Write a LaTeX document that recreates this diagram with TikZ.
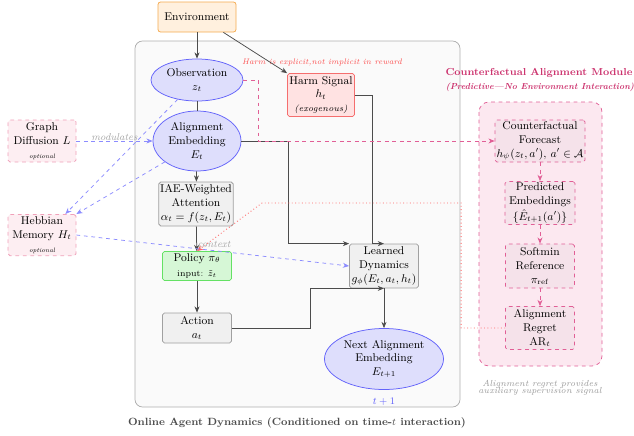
\documentclass[tikz,border=0pt]{standalone}
\usepackage{amsmath,amssymb}
\usetikzlibrary{arrows.meta,shapes.geometric,calc}
\definecolor{envfill}{RGB}{255,240,222}
\definecolor{envdraw}{RGB}{245,170,80}
\definecolor{ellfill}{RGB}{222,222,252}
\definecolor{elldraw}{RGB}{100,100,250}
\definecolor{boxfill}{RGB}{240,240,240}
\definecolor{boxdraw}{RGB}{160,160,160}
\definecolor{polfill}{RGB}{214,247,214}
\definecolor{poldraw}{RGB}{100,225,100}
\definecolor{harmfill}{RGB}{255,226,226}
\definecolor{harmdraw}{RGB}{245,110,110}
\definecolor{modc}{RGB}{204,51,110}
\definecolor{moddraw}{RGB}{225,95,150}
\definecolor{modfill}{RGB}{252,232,240}
\definecolor{cffill}{RGB}{245,226,234}
\definecolor{optdraw}{RGB}{240,160,185}
\definecolor{optfill}{RGB}{253,238,242}
\definecolor{dashblue}{RGB}{140,140,255}
\definecolor{harmtxt}{RGB}{250,80,80}
\definecolor{outerfill}{RGB}{250,250,250}
\definecolor{outerdraw}{RGB}{175,175,175}
\begin{document}
\begin{tikzpicture}[x=0.8pt,y=-0.8pt,
  font=\small,
  every node/.style={align=center,inner sep=1pt},
  arr/.style={-{Stealth[length=5pt,width=4pt]},draw=black!70,line width=0.6pt},
  plainline/.style={draw=black!70,line width=0.6pt},
  ellnode/.style={ellipse,draw=elldraw,fill=ellfill,line width=0.6pt},
  graybox/.style={rectangle,rounded corners=1.5pt,draw=boxdraw,fill=boxfill,line width=0.6pt},
  optbox/.style={rectangle,rounded corners=1.5pt,draw=optdraw,fill=optfill,dashed,line width=0.6pt},
  cfbox/.style={rectangle,rounded corners=1.5pt,draw=moddraw,fill=cffill,dashed,line width=0.6pt},
  bluedash/.style={-{Stealth[length=5pt,width=4pt]},draw=dashblue,dashed,line width=0.6pt},
  magdash/.style={-{Stealth[length=5pt,width=4pt]},draw=moddraw,dashed,line width=0.6pt},
  reddot/.style={-{Stealth[length=5pt,width=4pt]},draw=red!60,dotted,line width=0.7pt},
  smalllabel/.style={font=\footnotesize\itshape,text=gray!70}
]
\useasboundingbox (0,0) rectangle (634,436);
% outer box
\draw[draw=outerdraw,fill=outerfill,rounded corners=6pt,line width=0.6pt] (135,41) rectangle (460,407);
% module box
\draw[draw=moddraw,fill=modfill,dashed,rounded corners=8pt,line width=0.6pt] (479,102) rectangle (602,366);

% nodes
\node[rectangle,rounded corners=2pt,draw=envdraw,fill=envfill,line width=0.6pt,minimum width=62.4pt,minimum height=24pt] (env) at (197,17) {Environment};
\node[ellnode,minimum width=73.6pt,minimum height=33.6pt] (obs) at (197,80) {Observation\\$z_t$};
\node[ellnode,minimum width=70.4pt,minimum height=48pt] (ae) at (197,141) {Alignment\\Embedding\\$E_t$};
\node[graybox,minimum width=57.6pt,minimum height=35.2pt] (iae) at (196,204) {IAE-Weighted\\Attention\\$\alpha_t=f(z_t,E_t)$};
\node[rectangle,rounded corners=1.5pt,draw=poldraw,fill=polfill,line width=0.6pt,minimum width=55.2pt,minimum height=23.2pt] (pol) at (197,266) {Policy $\pi_\theta$\\[1pt]{\scriptsize input: $\tilde z_t$}};
\node[graybox,minimum width=55.2pt,minimum height=24pt] (act) at (197,328) {Action\\$a_t$};
\node[rectangle,rounded corners=1.5pt,draw=harmdraw,fill=harmfill,line width=0.6pt,minimum width=53.6pt,minimum height=34.4pt] (harm) at (321,95) {Harm Signal\\$h_t$\\{\scriptsize\itshape (exogenous)}};
\node[graybox,minimum width=55.2pt,minimum height=35.2pt] (dyn) at (384,266) {Learned\\Dynamics\\$g_\phi(E_t,a_t,h_t)$};
\node[ellnode,minimum width=95.2pt,minimum height=48.8pt] (next) at (384,359) {Next Alignment\\Embedding\\$E_{t+1}$};
\node[optbox,minimum width=54.4pt,minimum height=33.6pt] (gd) at (42,141) {Graph\\Diffusion $L$\\{\tiny\itshape optional}};
\node[optbox,minimum width=54.4pt,minimum height=33pt] (heb) at (42,235) {Hebbian\\Memory $H_t$\\{\tiny\itshape optional}};
\node[cfbox,minimum width=72pt,minimum height=33.6pt] (cf) at (540,141) {Counterfactual\\Forecast\\$h_\psi(z_t,a'),\,a'\in\mathcal{A}$};
\node[cfbox,minimum width=56pt,minimum height=34.4pt] (pred) at (540,203) {Predicted\\Embeddings\\[2pt]$\{\hat E_{t+1}(a')\}$};
\node[cfbox,minimum width=55.2pt,minimum height=35.2pt] (soft) at (540,266) {Softmin\\Reference\\$\pi_{\mathrm{ref}}$};
\node[cfbox,minimum width=55.2pt,minimum height=34.4pt] (reg) at (540,328) {Alignment\\Regret\\$\mathrm{AR}_t$};

% texts
\node[font=\fontsize{6.4}{8}\selectfont\itshape,text=harmtxt] (harmnote) at (322,62) {Harm is explicit,not implicit in reward};
\node[font=\footnotesize,text=elldraw] (tp1) at (384,402) {$t+1$};
\node[font=\fontsize{8.4}{10}\selectfont\bfseries,text=black!70] (cap) at (297,423) {Online Agent Dynamics (Conditioned on time-$t$ interaction)};
\node[font=\fontsize{8.1}{10}\selectfont\bfseries,text=modc] (modtitle) at (539,73) {Counterfactual Alignment Module};
\node[font=\scriptsize\bfseries\itshape,text=modc] (modsub) at (540,87) {(Predictive---No Environment Interaction)};
\node[font=\scriptsize\itshape,text=gray!80,align=center] (modnote) at (540,388) {Alignment regret provides\\[-2pt]auxiliary supervision signal};

% connectors
\draw[arr] (env) -- (obs);
\draw[arr] ($(env.south east)+(-13,0)$) -- (harm.north west);
\draw[plainline] (obs) -- (ae);
\draw[arr] (ae) -- (iae);
\draw[arr] (iae) -- (pol);
\draw[arr] (pol) -- (act);
\draw[arr] (act.east) -- ++(78,0) |- (dyn.south);
\draw[arr] (dyn) -- (next);
\draw[arr] (ae.east) -- ++(47,0) |- (dyn.north west);
\draw[arr] (harm.east) -- ++(17,0) |- (dyn.north);
\draw[magdash] (obs.east) -- ++(15,0) |- (cf.west);
\draw[magdash] (cf) -- (pred);
\draw[magdash] (pred) -- (soft);
\draw[magdash] (soft) -- (reg);
\coordinate (rc) at (262,203);
\draw[reddot] (reg.west) -- ++(-44,0) |- (rc) -- (pol.north);
\draw[bluedash] (gd.east) -- node[smalllabel,above=-1pt] {modulates} (ae.west);
\draw[bluedash] (heb.east) -- (dyn.west);
\draw[bluedash] (obs.225) -- ($(heb.north east)+(-11,0)$);
\draw[bluedash] (ae.213) -- (heb.north east);
\node[smalllabel] (ctx) at (214,244) {context};
\end{tikzpicture}
\end{document}
